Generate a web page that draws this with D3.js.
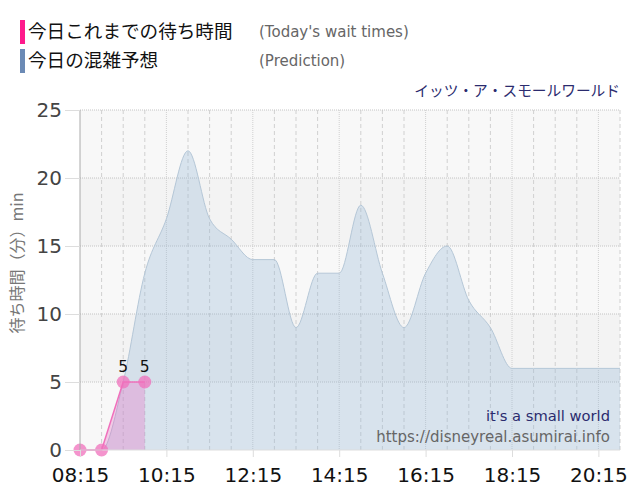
<!DOCTYPE html>
<html><head><meta charset="utf-8">
<script src="https://cdn.jsdelivr.net/npm/d3@7"></script>
<style>body{margin:0;background:#fff}svg{display:block}</style>
</head><body><svg id="c" width="640" height="500"></svg>
<script>
// ---- data ----
const predTimes = ["08:15","08:45","09:15","09:45","10:15","10:45","11:15","11:45","12:15","12:45","13:15","13:45","14:15","14:45","15:15","15:45","16:15","16:45","17:15","17:45","18:15","18:45","19:15","19:45","20:15","20:45"];
const predValues = [0,0,5,13,17,22,17,15.5,14,14,9,13,13,18,13,9,13,15,11,9,6,6,6,6,6,6];
const actualTimes = ["08:15","08:45","09:15","09:45"];
const actualValues = [0,0,5,5];
const xTickLabels = ["08:15","10:15","12:15","14:15","16:15","18:15","20:15"];
const yTicks = [0,5,10,15,20,25];
const legendJa = ["今日これまでの待ち時間","今日の混雑予想"];
const legendEn = ["(Today's wait times)","(Prediction)"];
const attraction = "イッツ・ア・スモールワールド";
const watermark = ["it's a small world","https://disneyreal.asumirai.info"];
const yTitle = "待ち時間（分）min";

const toMin = s => { const [h,m] = s.split(":").map(Number); return h*60+m; };
const svg = d3.select("#c");
const L=80,R=620,T=110,B=450;
const x = d3.scaleLinear().domain([toMin("08:15"), toMin("20:45")]).range([L,R]);
const y = d3.scaleLinear().domain([0,25]).range([B,T]);
const SANS = "'DejaVu Sans', Verdana, sans-serif";
const JP = "'Noto Sans CJK JP', sans-serif";

// bands
const bands = d3.pairs(yTicks);
svg.append("g").selectAll("rect").data(bands).join("rect")
  .attr("x",L).attr("width",R-L)
  .attr("y",d=>y(d[1])).attr("height",d=>y(d[0])-y(d[1]))
  .attr("fill",(d,i)=> i%2===0 ? "#f8f8f8" : "#f3f3f3");

// vertical grid every 30 min
const minorTicks = d3.range(toMin("08:45"), toMin("20:45")+1, 30);
svg.append("g").selectAll("line").data(minorTicks).join("line")
  .attr("x1",d=>x(d)).attr("x2",d=>x(d)).attr("y1",T).attr("y2",B)
  .attr("stroke","#d0d0d0").attr("stroke-width",1)
  .attr("stroke-dasharray",d=> (d-toMin("08:15"))%120===0 ? "1,1" : "4,3");
// horizontal grid
svg.append("g").selectAll("line").data(yTicks.slice(1)).join("line")
  .attr("x1",L).attr("x2",R).attr("y1",d=>y(d)).attr("y2",d=>y(d))
  .attr("stroke","#c4c4c4").attr("stroke-dasharray","1,1");

// prediction area
const pred = predTimes.map((t,i)=>({t:toMin(t),v:predValues[i]}));
const area = d3.area().x(d=>x(d.t)).y0(B).y1(d=>y(d.v)).curve(d3.curveMonotoneX);
const line = d3.line().x(d=>x(d.t)).y(d=>y(d.v)).curve(d3.curveMonotoneX);
svg.append("path").datum(pred).attr("d",area).attr("fill","rgba(150,185,215,0.32)");
svg.append("path").datum(pred).attr("d",line).attr("fill","none").attr("stroke","#b5c7d7").attr("stroke-width",1);

// actual
const act = actualTimes.map((t,i)=>({t:toMin(t),v:actualValues[i]}));
const aArea = d3.area().x(d=>x(d.t)).y0(B).y1(d=>y(d.v));
const aLine = d3.line().x(d=>x(d.t)).y(d=>y(d.v));
svg.append("path").datum(act).attr("d",aArea).attr("fill","rgba(232,110,195,0.33)");
svg.append("path").datum(act).attr("d",aLine).attr("fill","none").attr("stroke","#f070bc").attr("stroke-width",1.5);
svg.append("g").selectAll("circle").data(act).join("circle")
  .attr("cx",d=>x(d.t)).attr("cy",d=>y(d.v)).attr("r",6.5)
  .attr("fill","#f070bc").attr("fill-opacity",0.75);
svg.append("g").selectAll("text").data(act.filter(d=>d.v>0)).join("text")
  .attr("x",d=>x(d.t)).attr("y",d=>y(d.v)-10).attr("text-anchor","middle")
  .attr("font-family",SANS).attr("font-size",15.5).attr("fill","#111").text(d=>d.v);

// axes
const yAxis = d3.axisLeft(y).tickValues(yTicks).tickSize(15).tickPadding(3);
const gy = svg.append("g").attr("transform",`translate(${L},0)`).call(yAxis);
gy.select(".domain").attr("stroke","#aaa").attr("d",`M0,${T}V${B}`);
gy.selectAll(".tick line").attr("stroke","#ddd");
gy.selectAll(".tick text").attr("font-family",SANS).attr("font-size",20).attr("fill","#444");

const xAxis = d3.axisBottom(x).tickValues(xTickLabels.map(toMin)).tickSize(7).tickPadding(11)
  .tickFormat((d,i)=>xTickLabels[i]);
const gx = svg.append("g").attr("transform",`translate(0,${B})`).call(xAxis);
gx.select(".domain").attr("stroke","#ddd").attr("d",`M${L},0H${R}`);
gx.selectAll(".tick line").attr("stroke","#ddd");
gx.selectAll(".tick text").attr("font-family",SANS).attr("font-size",20).attr("fill","#111");

// y title
svg.append("text").attr("transform","translate(23,263) rotate(-90)").attr("text-anchor","middle")
  .attr("font-family",JP).attr("font-size",16).attr("fill","#777").text(yTitle);

// legend
const legColors = ["#ff1a8c","#6b8ab5"];
legendJa.forEach((t,i)=>{
  const yy = 20 + i*29;
  svg.append("rect").attr("x",20).attr("y",yy).attr("width",5).attr("height",24).attr("fill",legColors[i]);
  svg.append("text").attr("x",28).attr("y",yy+18).attr("font-family",JP).attr("font-size",18.6)
    .attr("fill","#111").text(t);
  svg.append("text").attr("x",259).attr("y",yy+17).attr("font-family",SANS).attr("font-size",15)
    .attr("fill","#666").text(legendEn[i]);
});
svg.append("text").attr("x",620).attr("y",96).attr("text-anchor","end").attr("font-family",JP)
  .attr("font-size",14.7).attr("fill","#2b2b6e").text(attraction);

// watermark
svg.append("text").attr("x",610).attr("y",421).attr("text-anchor","end").attr("font-family",SANS)
  .attr("font-size",14.7).attr("fill","#2b2b6e").text(watermark[0]);
svg.append("text").attr("x",610).attr("y",442).attr("text-anchor","end").attr("font-family",SANS)
  .attr("font-size",15).attr("fill","#666").text(watermark[1]);
</script></body></html>
